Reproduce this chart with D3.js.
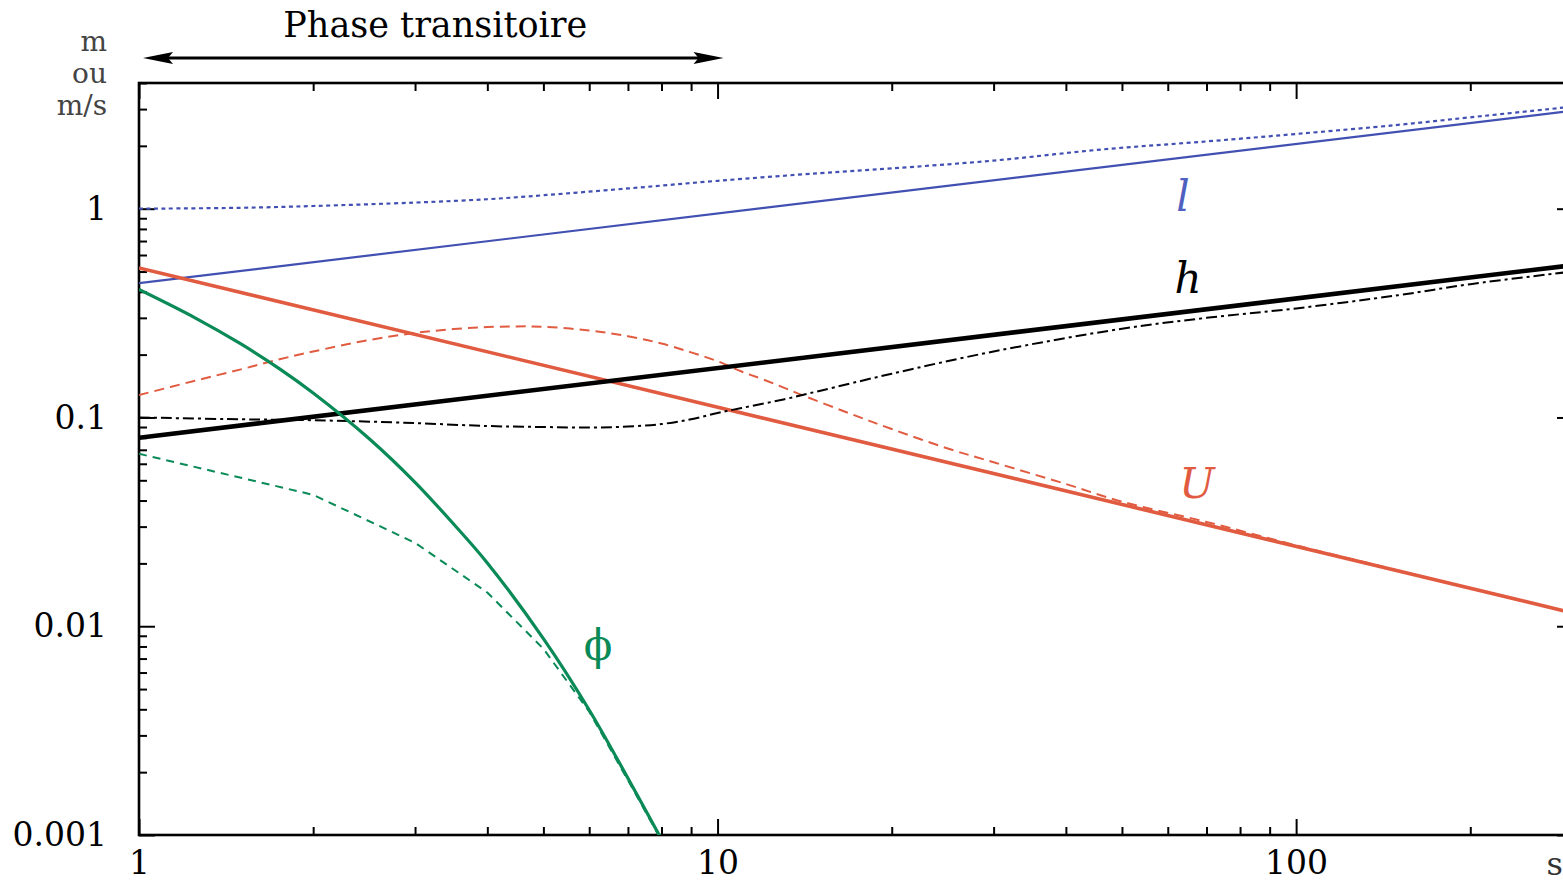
<!DOCTYPE html>
<html>
<head>
<meta charset="utf-8">
<script src="https://cdn.jsdelivr.net/npm/d3@7"></script>
<style>
  html, body { margin: 0; padding: 0; background: #fff; }
  svg { display: block; }
  text { font-family: "DejaVu Serif", serif; }
</style>
</head>
<body>
<svg id="chart" width="1563" height="885"></svg>
<script>
// ---- data: time t (s) and quantity (m or m/s) ----
// l : length scale
const lSolidT = [1, 300];
const lSolidV = [0.44, 2.945];
const lDotT = [1, 1.5, 2, 3, 4, 5, 7, 10, 15, 20, 30, 46, 70, 100, 150, 200, 300];
const lDotV = [1.00, 1.01, 1.03, 1.07, 1.11, 1.16, 1.25, 1.36, 1.48, 1.56, 1.70, 1.92, 2.10, 2.28, 2.52, 2.74, 3.08];

// h : thickness
const hSolidT = [1, 300];
const hSolidV = [0.080, 0.536];
const hDashDotT = [1, 1.5, 2, 3, 4, 5, 6, 7, 8, 9, 10, 11, 13, 15, 20, 30, 50, 70, 100, 150, 200, 300];
const hDashDotV = [0.100, 0.098, 0.097, 0.094, 0.091, 0.090, 0.0895, 0.0905, 0.093, 0.098, 0.105, 0.111, 0.122, 0.134, 0.162, 0.207, 0.266, 0.300, 0.333, 0.385, 0.435, 0.500];

// U : velocity
const uSolidT = [1, 300];
const uSolidV = [0.52, 0.0116];
const uDashT = [1, 1.25, 1.5, 1.75, 2, 2.5, 3, 3.5, 4, 4.5, 5, 6, 7, 8, 9, 10, 11, 12, 14, 17, 20, 25, 30, 40, 50, 70, 100, 150, 200, 300];
const uDashV = [0.128, 0.150, 0.170, 0.190, 0.207, 0.235, 0.254, 0.265, 0.271, 0.273, 0.272, 0.261, 0.245, 0.226, 0.205, 0.186, 0.166, 0.152, 0.128, 0.104, 0.088, 0.071, 0.061, 0.048, 0.0395, 0.0316, 0.0244, 0.0185, 0.0152, 0.0116];

// phi : volume fraction
const phiSolidT = [1, 1.25, 1.5, 1.75, 2, 2.5, 3, 3.5, 4, 5, 6, 7, 8];
const phiSolidV = [0.41, 0.300, 0.225, 0.171, 0.131, 0.0791, 0.0489, 0.0308, 0.0201, 0.00872, 0.00397, 0.00187, 0.000954];
const phiDashT = [1, 2, 3, 4, 5, 6, 7, 8];
const phiDashV = [0.067, 0.0426, 0.0251, 0.0145, 0.0078, 0.0039, 0.00183, 0.00094];

// ---- axes ----
const xTickValues = [1, 10, 100];
const xTickLabels = ["1", "10", "100"];
const yTickValues = [0.001, 0.01, 0.1, 1];
const yTickLabels = ["0.001", "0.01", "0.1", "1"];
const xUnit = "s";
const yUnitLines = ["m", "ou", "m/s"];
const phaseRange = [1, 10];
const phaseLabel = "Phase transitoire";

const blue = "#4150b2";
const red = "#e15b41";
const green = "#0a8a56";

const svg = d3.select("#chart");

const x = d3.scaleLog().domain([1, 301]).range([139, 1573]);
const y = d3.scaleLog().domain([0.001, 4]).range([835, 83]);

const [x0, x1] = x.range();
const [y0, y1] = y.range();

svg.append("clipPath").attr("id", "plot-clip")
  .append("rect")
  .attr("x", x0).attr("y", y1)
  .attr("width", x1 - x0).attr("height", y0 - y1);

// minor ticks per decade
const xMinor = [];
[1, 10, 100].forEach(d => { for (let k = 2; k <= 9; k++) if (d * k <= 301) xMinor.push(d * k); });
const yMinor = [];
[0.001, 0.01, 0.1, 1].forEach(d => { for (let k = 2; k <= 9; k++) if (d * k <= 4) yMinor.push(d * k); });

function styleAxis(g) {
  g.select(".domain").remove();
  g.selectAll(".tick line").attr("stroke", "#000").attr("stroke-width", 2);
  g.selectAll(".tick text").attr("fill", "#000").style("font-size", "33px")
    .style("font-family", '"DejaVu Serif", serif');
}

const majorLen = 16, minorLen = 8;

// bottom
svg.append("g").attr("transform", `translate(0,${y0})`)
  .call(d3.axisBottom(x).tickValues(xMinor).tickSize(-minorLen).tickFormat(""))
  .call(styleAxis);
svg.append("g").attr("transform", `translate(0,${y0})`)
  .call(d3.axisBottom(x).tickValues(xTickValues).tickSize(-majorLen).tickPadding(16)
    .tickFormat((d, i) => xTickLabels[i]))
  .call(styleAxis);
// top
svg.append("g").attr("transform", `translate(0,${y1})`)
  .call(d3.axisTop(x).tickValues(xMinor).tickSize(-minorLen).tickFormat(""))
  .call(styleAxis);
svg.append("g").attr("transform", `translate(0,${y1})`)
  .call(d3.axisTop(x).tickValues(xTickValues).tickSize(-majorLen).tickFormat(""))
  .call(styleAxis);
// left
svg.append("g").attr("transform", `translate(${x0},0)`)
  .call(d3.axisLeft(y).tickValues(yMinor).tickSize(-minorLen).tickFormat(""))
  .call(styleAxis);
svg.append("g").attr("transform", `translate(${x0},0)`)
  .call(d3.axisLeft(y).tickValues(yTickValues).tickSize(-majorLen).tickPadding(32)
    .tickFormat((d, i) => yTickLabels[i]))
  .call(styleAxis);
// right
svg.append("g").attr("transform", `translate(${x1},0)`)
  .call(d3.axisRight(y).tickValues(yMinor).tickSize(-minorLen).tickFormat(""))
  .call(styleAxis);
svg.append("g").attr("transform", `translate(${x1},0)`)
  .call(d3.axisRight(y).tickValues(yTickValues).tickSize(-majorLen).tickFormat(""))
  .call(styleAxis);

// frame
svg.append("rect")
  .attr("x", x0).attr("y", y1)
  .attr("width", x1 - x0).attr("height", y0 - y1)
  .attr("fill", "none").attr("stroke", "#000").attr("stroke-width", 2.6);

// unit labels
svg.append("text").attr("x", 1563).attr("y", 866)
  .attr("text-anchor", "end").attr("dominant-baseline", "middle")
  .attr("fill", "#333").style("font-size", "32px").text(xUnit);
yUnitLines.forEach((s, i) => {
  svg.append("text").attr("text-anchor", "end")
    .attr("fill", "#444").style("font-size", "28px")
    .attr("x", 107).attr("y", 51 + i * 32).text(s);
});

// ---- curves ----
const plot = svg.append("g").attr("clip-path", "url(#plot-clip)");

function series(ts, vs) { return ts.map((t, i) => [t, vs[i]]); }

const smooth = d3.line().x(d => x(d[0])).y(d => y(d[1])).curve(d3.curveCatmullRom.alpha(0.5));
const straight = d3.line().x(d => x(d[0])).y(d => y(d[1]));

function draw(gen, data, color, width, dash) {
  plot.append("path")
    .attr("d", gen(data))
    .attr("fill", "none")
    .attr("stroke", color)
    .attr("stroke-width", width)
    .attr("stroke-dasharray", dash || null)
    .attr("stroke-linejoin", "round");
}

draw(smooth, series(lDotT, lDotV), blue, 2.2, "4,3.5");
draw(straight, series(lSolidT, lSolidV), blue, 2.2);
draw(smooth, series(uDashT, uDashV), red, 2, "10,6");
draw(straight, series(uSolidT, uSolidV), red, 3.6);
draw(smooth, series(hDashDotT, hDashDotV), "#000", 2, "11,4,3,4");
draw(straight, series(hSolidT, hSolidV), "#000", 4.6);
draw(straight, series(phiDashT, phiDashV), green, 2, "8,6");
draw(smooth, series(phiSolidT, phiSolidV), green, 3.2);

// curve labels
function label(txt, px, py, color, italic) {
  svg.append("text").attr("x", px).attr("y", py)
    .attr("text-anchor", "middle")
    .attr("fill", color)
    .style("font-size", "42px")
    .style("font-style", italic ? "italic" : "normal")
    .text(txt);
}
label("l", 1183, 211, "#5060c0", true);
label("h", 1188, 293, "#000", true);
label("U", 1197, 498, red, true);
label("\u03D5", 598, 660, green, false);

// ---- transient phase arrow ----
const ay = 58;
const ax0 = x(phaseRange[0]) + 4, ax1 = x(phaseRange[1]) + 6;
svg.append("line")
  .attr("x1", ax0 + 10).attr("x2", ax1 - 10)
  .attr("y1", ay).attr("y2", ay)
  .attr("stroke", "#000").attr("stroke-width", 3);
svg.append("path")
  .attr("d", `M${ax1},${ay} L${ax1 - 30},${ay - 6} L${ax1 - 25},${ay} L${ax1 - 30},${ay + 6} Z`)
  .attr("fill", "#000");
svg.append("path")
  .attr("d", `M${ax0},${ay} L${ax0 + 30},${ay - 6} L${ax0 + 25},${ay} L${ax0 + 30},${ay + 6} Z`)
  .attr("fill", "#000");
svg.append("text")
  .attr("x", (ax0 + ax1) / 2 + 2).attr("y", 37)
  .attr("text-anchor", "middle")
  .attr("fill", "#000")
  .style("font-size", "35px")
  .text(phaseLabel);
</script>
</body>
</html>
